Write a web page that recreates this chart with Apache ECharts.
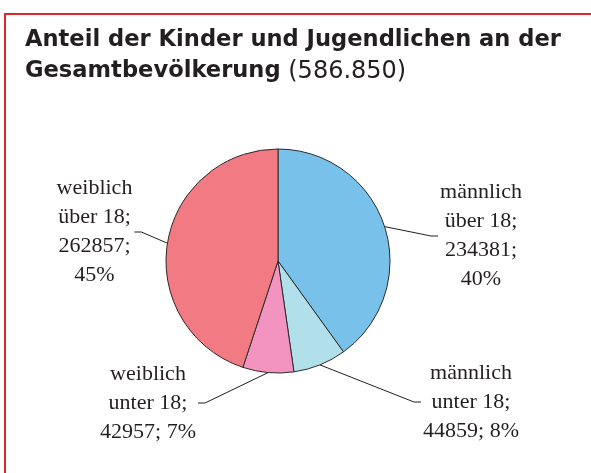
<!DOCTYPE html>
<html>
<head>
<meta charset="utf-8">
<script src="https://cdn.jsdelivr.net/npm/echarts@6/dist/echarts.min.js"></script>
<style>
  html, body { margin: 0; padding: 0; background: #ffffff; }
  #chart { position: absolute; left: 0; top: 0; width: 591px; height: 473px; }
  #frame { position: absolute; left: 4px; top: 13px; right: -10px; bottom: -10px;
           border-top: 2px solid #e3242b; border-left: 2px solid #e3242b; pointer-events: none; }
</style>
</head>
<body>
<div id="chart"></div>
<div id="frame"></div>
<script>
// ---- data ----
var titleBold1 = 'Anteil der Kinder und Jugendlichen an der';
var titleBold2 = 'Gesamtbevölkerung';
var titleTotal = '(586.850)';
var categories = ['männlich\nüber 18', 'männlich\nunter 18', 'weiblich\nunter 18', 'weiblich\nüber 18'];
var values = [234381, 44859, 42957, 262857];
var colors = ['#78c1ea', '#b1e0ea', '#f294bf', '#f17a83'];

// ---- label layout (centre of each label block, not data) ----
var labelPos = [[481, 236], [471, 402], [148, 403], [94.5, 232]];
var splitValueLine = [true, false, false, true];

var total = values.reduce(function (a, b) { return a + b; }, 0);

var chart = echarts.init(document.getElementById('chart'), null, { renderer: 'canvas' });

var option = {
  animation: false,
  backgroundColor: '#ffffff',
  title: {
    left: 25,
    top: 25,
    padding: 0,
    text: '{b|' + titleBold1 + '}\n{b|' + titleBold2 + '}{r| ' + titleTotal + '}',
    textStyle: {
      rich: {
        b: { fontFamily: 'DejaVu Sans', fontWeight: 'bold', fontSize: 22.6, lineHeight: 31, color: '#231f20' },
        r: { fontFamily: 'DejaVu Sans', fontWeight: 'normal', fontSize: 24, lineHeight: 31, color: '#231f20' }
      }
    }
  },
  series: [{
    type: 'pie',
    center: [278, 261],
    radius: 112,
    startAngle: 90,
    clockwise: true,
    avoidLabelOverlap: false,
    silent: true,
    data: values.map(function (v, i) {
      return { name: categories[i], value: v, itemStyle: { color: colors[i] } };
    }),
    itemStyle: { borderColor: '#2b2b2b', borderWidth: 1 },
    label: {
      show: true,
      position: 'outside',
      fontFamily: 'Liberation Serif',
      fontSize: 22,
      lineHeight: 29,
      color: '#231f20',
      padding: [4, 2, 0, 2],
      formatter: function (p) {
        var pct = Math.round(p.value / total * 100);
        var sep = splitValueLine[p.dataIndex] ? ';\n' : '; ';
        return p.name + ';\n' + p.value + sep + pct + '%';
      }
    },
    labelLine: {
      show: true,
      length: 10,
      length2: 7,
      minTurnAngle: 10,
      lineStyle: { color: '#231f20', width: 1 }
    },
    labelLayout: function (params) {
      var pos = labelPos[params.dataIndex];
      return { x: pos[0], y: pos[1], align: 'center', verticalAlign: 'middle' };
    }
  }]
};

chart.setOption(option);
</script>
</body>
</html>
